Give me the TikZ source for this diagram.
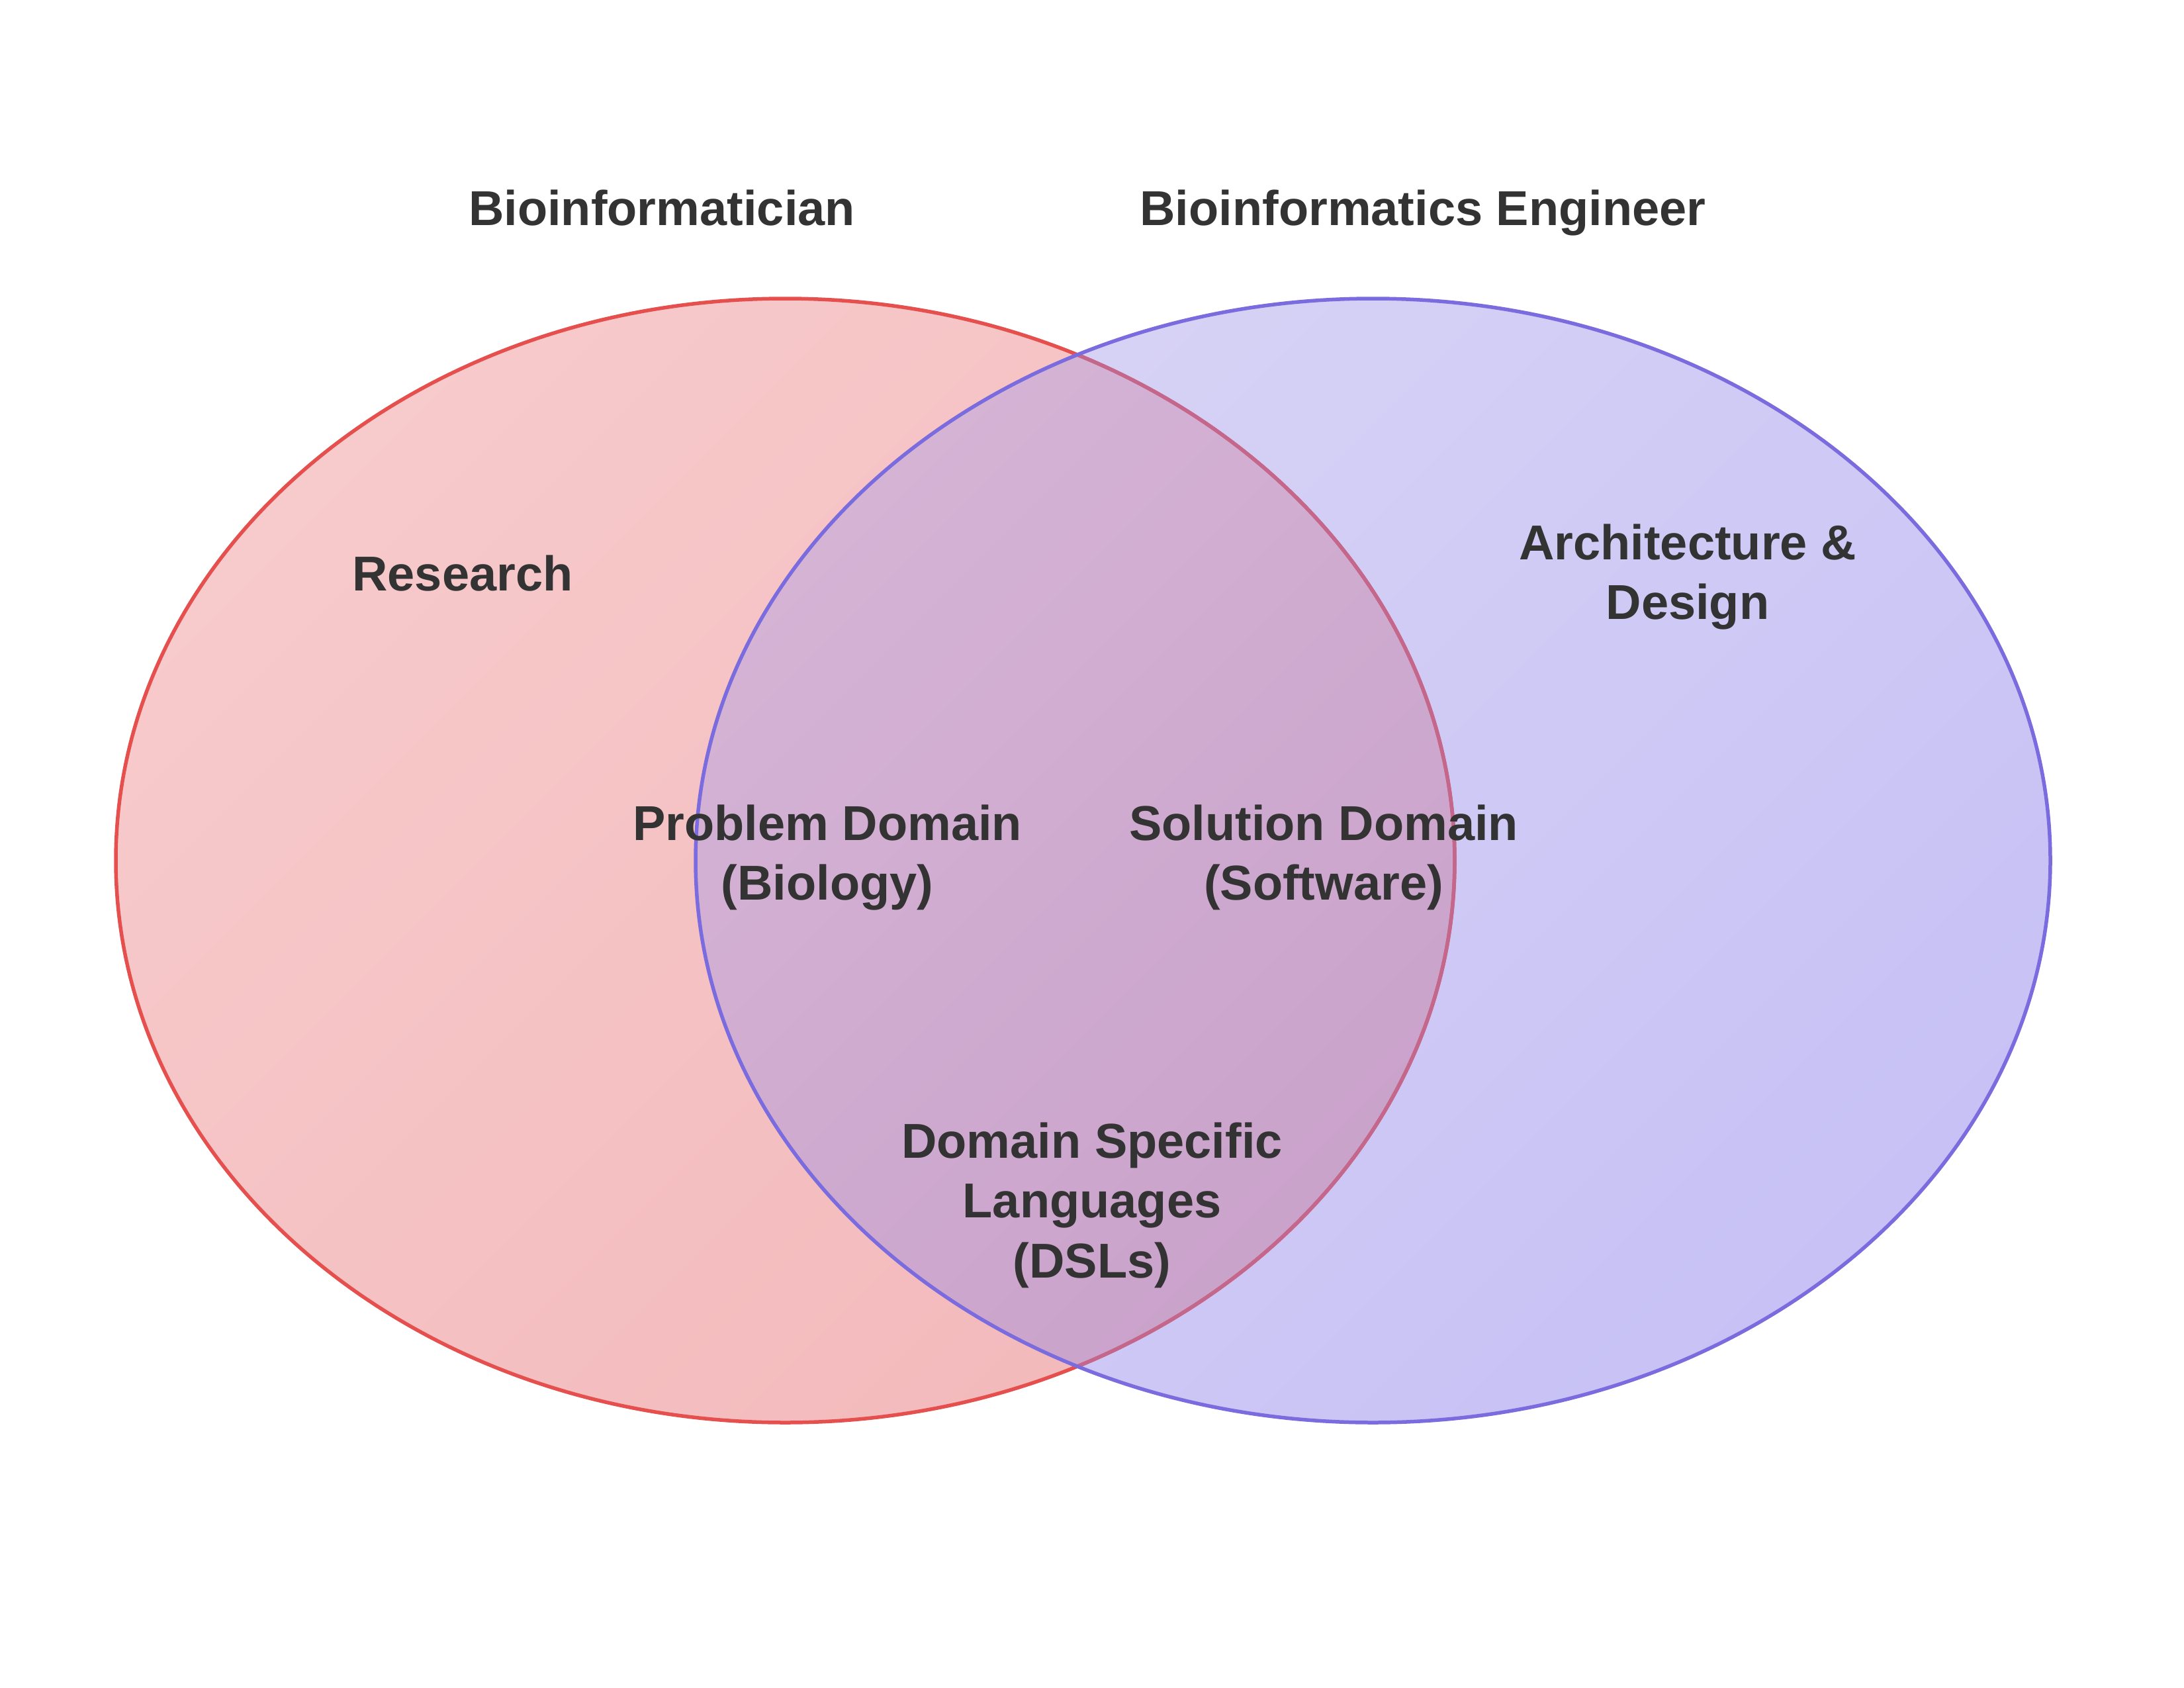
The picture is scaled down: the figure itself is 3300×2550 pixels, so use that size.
\documentclass[tikz,border=0pt]{standalone}
\usepackage{fontspec}
\setmainfont{Liberation Sans}
\begin{document}
\definecolor{bioTL}{HTML}{F7CACB}
\definecolor{bioBR}{HTML}{F3B9BB}
\definecolor{engTL}{HTML}{D7D3F5}
\definecolor{engBR}{HTML}{C7C1F5}
\definecolor{bothTL}{HTML}{D4B3D5}
\definecolor{bothBR}{HTML}{C59AC6}
\definecolor{bioLine}{HTML}{E5504F}
\definecolor{engLine}{HTML}{7A6BDE}
\definecolor{bioLineIn}{HTML}{C4678D}
\definecolor{ink}{HTML}{333333}
\begin{tikzpicture}[x=1pt,y=-1pt,
  lbl/.style={text=ink,font=\bfseries\fontsize{74}{90.5}\selectfont,
              align=center,inner sep=0pt,anchor=base},
  ring/.style={line width=5.5pt}]
\useasboundingbox (0,0) rectangle (3300,2550);

% the two sets
\def\bioset{(1186.5,1300) ellipse [x radius=1011.5pt, y radius=849pt]}
\def\engset{(2074.5,1300) ellipse [x radius=1023.5pt, y radius=849pt]}

% fills
\shade[top color=bioTL,bottom color=bioBR,shading angle=45] \bioset;
\shade[top color=engTL,bottom color=engBR,shading angle=45] \engset;
\begin{scope}
  \clip \bioset;
  \shade[top color=bothTL,bottom color=bothBR,shading angle=45] \engset;
\end{scope}

% outlines
\draw[ring,bioLine] \bioset;
\begin{scope}
  \clip \engset;
  \draw[ring,bioLineIn] \bioset;
\end{scope}
\draw[ring,engLine] \engset;

% labels (base anchor sits on the last line of each label)
\node[lbl] (bio)   at (1000,340)   {Bioinformatician};
\node[lbl] (eng)   at (2150,340)   {Bioinformatics Engineer};
\node[lbl] (res)   at (699,892)    {Research};
\node[lbl] (arch)  at (2550,935.5) {Architecture \&\\Design};
\node[lbl] (prob)  at (1250,1359.5) {Problem Domain\\(Biology)};
\node[lbl] (sol)   at (2000,1359.5) {Solution Domain\\(Software)};
\node[lbl] (dsl)   at (1650,1930)  {Domain Specific\\Languages\\(DSLs)};
\end{tikzpicture}
\end{document}
